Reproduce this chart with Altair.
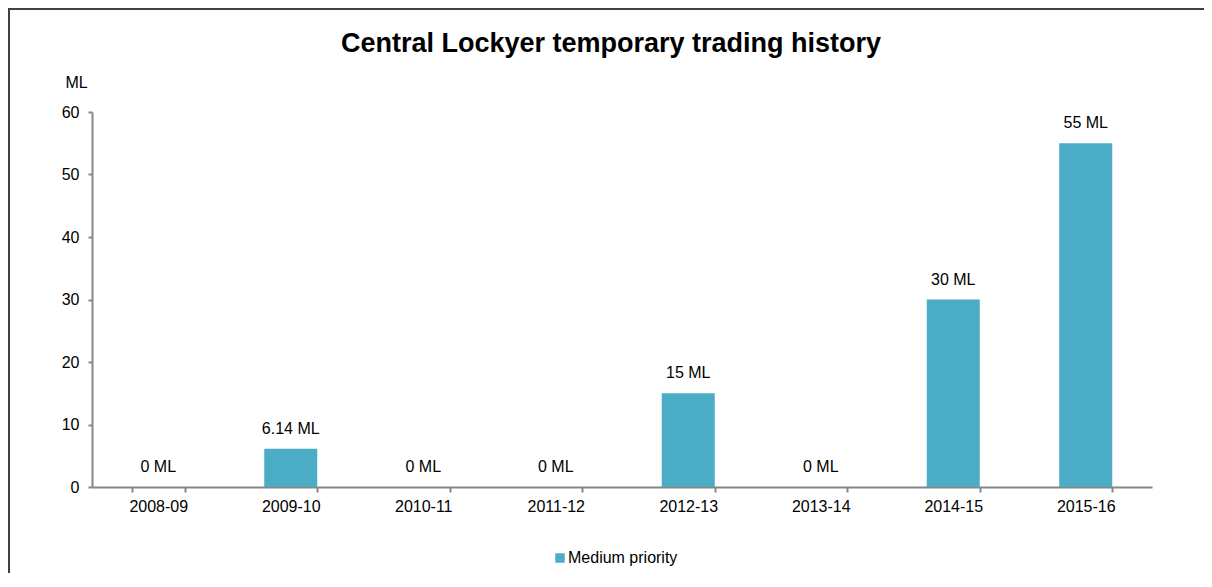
import altair as alt
import pandas as pd

seasons = ["2008-09", "2009-10", "2010-11", "2011-12", "2012-13", "2013-14", "2014-15", "2015-16"]
volumes = [0, 6.14, 0, 0, 15, 0, 30, 55]
series_name = "Medium priority"
y_ticks = [0, 10, 20, 30, 40, 50, 60]
title_text = "Central Lockyer temporary trading history"
unit = "ML"

df = pd.DataFrame({
    "season": seasons,
    "volume": volumes,
    "series": [series_name] * len(seasons),
})
df["label"] = [f"{v:g} {unit}" for v in volumes]

FONT = "Liberation Sans"
BAR = "#4BACC6"
AXIS_GREY = "#868686"
FRAME = "#404040"

x_enc = alt.X(
    "season:N",
    sort=seasons,
    scale=alt.Scale(paddingInner=0.6, paddingOuter=0.3),
    axis=alt.Axis(
        title=None, labelAngle=0, tickBand="extent", tickSize=5,
        labelPadding=6, labelFontSize=16, labelFont=FONT, labelColor="#000000",
        domainColor=AXIS_GREY, tickColor=AXIS_GREY, domainWidth=2, tickWidth=2,
        grid=False,
    ),
)
y_enc = alt.Y(
    "volume:Q",
    scale=alt.Scale(domain=[0, 60], nice=False),
    axis=alt.Axis(
        values=y_ticks, title=unit, titleAngle=0, titleX=-16, titleY=-30,
        titleAlign="center", titleBaseline="middle", titleFont=FONT,
        titleFontSize=16, titleFontWeight="normal", titleColor="#000000",
        tickSize=4, labelPadding=9, labelFontSize=16, labelFont=FONT,
        labelColor="#000000", domainColor=AXIS_GREY, tickColor=AXIS_GREY,
        domainWidth=2, tickWidth=2, grid=False,
    ),
)

base = alt.Chart(df)

bars = base.mark_bar(color=BAR).encode(
    x=x_enc,
    y=y_enc,
    color=alt.Color(
        "series:N",
        scale=alt.Scale(range=[BAR]),
        legend=alt.Legend(
            title=None, orient="none", legendX=460, legendY=438,
            symbolType="square", symbolSize=90, symbolStrokeWidth=0,
            labelFont=FONT, labelFontSize=16, labelColor="#000000",
            labelOffset=0,
        ),
    ),
)

labels = base.mark_text(
    font=FONT, fontSize=16, color="#000000", baseline="middle", dy=-20
).encode(
    x=alt.X("season:N", sort=seasons),
    y="volume:Q",
    text="label:N",
)

title = alt.Chart(pd.DataFrame({"t": [title_text]})).mark_text(
    font=FONT, fontSize=27, fontWeight="bold", color="#000000",
    baseline="alphabetic", align="center",
).encode(x=alt.value(519), y=alt.value(-60), text="t:N")

one = pd.DataFrame({"k": [0]})
frame_top = alt.Chart(one).mark_rule(color=FRAME, strokeWidth=2).encode(
    x=alt.value(-83), x2=alt.value(1200), y=alt.value(-103)
)
frame_left = alt.Chart(one).mark_rule(color=FRAME, strokeWidth=2).encode(
    x=alt.value(-83), y=alt.value(-104), y2=alt.value(520)
)

chart = alt.layer(frame_top, frame_left, bars, labels, title).properties(
    width=1060, height=375,
    padding={"left": 84, "top": 104, "right": 52, "bottom": 86},
    autosize=alt.AutoSizeParams(type="none"),
).configure(background="#ffffff").configure_view(stroke=None)

chart.save("out.html", embed_options={"renderer": "svg", "actions": False})
